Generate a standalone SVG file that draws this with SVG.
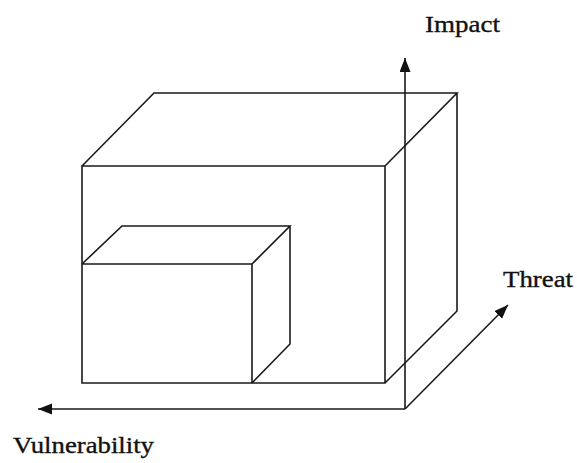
<svg xmlns="http://www.w3.org/2000/svg" width="577" height="463" viewBox="0 0 577 463">
<style>
.ln{fill:none;stroke:#1a1a1a;stroke-width:1.6;stroke-linejoin:miter}
.lbl{font-family:"Liberation Serif","Times New Roman",serif;font-size:24px;fill:#111;stroke:#111;stroke-width:0.35}
</style>
<defs>
<marker id="ah" markerUnits="userSpaceOnUse" markerWidth="16" markerHeight="12" refX="14" refY="5.5" orient="auto">
<path d="M0,0 L14,5.5 L0,11 Z" fill="#111"/>
</marker>
</defs>
<rect width="577" height="463" fill="#fff"/>
<g id="big-box">
<path class="ln" d="M82,166 H385 V383 H82 Z M82,166 L154,93 H457 L385,166 M457,93 V311 L385,383"/>
</g>
<g id="small-box">
<path class="ln" d="M82,264 H252 V383 M82,264 L122,226 H290 L252,264 M290,226 V344 L252,383"/>
</g>
<g id="connectors">
<line class="ln" x1="405" y1="409" x2="405" y2="58" marker-end="url(#ah)"/>
<line class="ln" x1="405" y1="409" x2="38" y2="409" marker-end="url(#ah)"/>
<line class="ln" x1="405" y1="409" x2="508" y2="305" marker-end="url(#ah)"/>
</g>
<g id="labels">
<text class="lbl" x="425" y="32" textLength="75" lengthAdjust="spacingAndGlyphs">Impact</text>
<text class="lbl" x="503" y="287" textLength="70" lengthAdjust="spacingAndGlyphs">Threat</text>
<text class="lbl" x="13" y="453" textLength="141" lengthAdjust="spacingAndGlyphs">Vulnerability</text>
</g>
</svg>
